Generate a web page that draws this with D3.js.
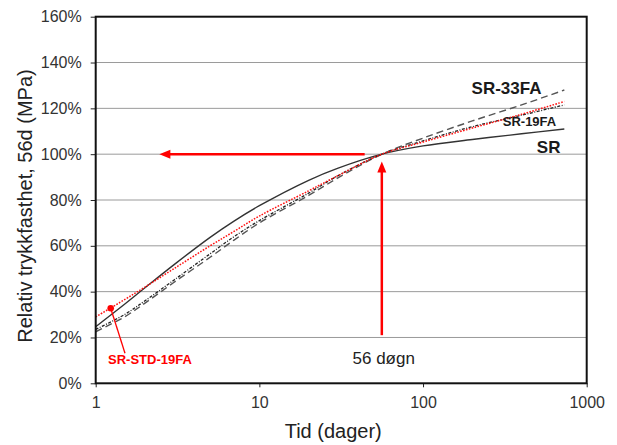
<!DOCTYPE html>
<html>
<head>
<meta charset="utf-8">
<script src="https://cdn.jsdelivr.net/npm/d3@7/dist/d3.min.js"></script>
<style>
  html, body { margin: 0; padding: 0; background: #fff; }
  svg { display: block; font-family: "Liberation Sans", Arial, sans-serif; }
</style>
</head>
<body>
<svg id="chart" width="617" height="445"></svg>
<script>
// ---- data ----
const days = [1, 1.5, 2, 3, 5, 7, 10, 20, 30, 56, 100, 200, 400, 730];
const srValues      = [24.7, 34.5, 41.7, 51.7, 63.7, 70.8, 77.5, 88.6, 93.8, 100, 103.6, 106.4, 108.9, 111];
const sr33faValues  = [22.5, 29, 35, 44, 55, 62.5, 70, 82, 89.5, 100, 107, 114.5, 121.5, 128];
const sr19faValues  = [23.5, 30, 36, 45, 56.5, 64, 71, 83, 90.5, 100, 105.8, 112, 117, 121.5];
const srStdValues   = [29, 36.5, 42, 50, 60, 66.3, 73, 84, 90.5, 100, 105.3, 111.4, 117.4, 123];
const xTickValues = [1, 10, 100, 1000];
const yTickValues = [0, 20, 40, 60, 80, 100, 120, 140, 160];
const seriesNames = ["SR", "SR-33FA", "SR-19FA", "SR-STD-19FA"];
// label anchors: [text, day, percent]
const seriesLabels = [["SR-33FA", 198, 126.3], ["SR-19FA", 307, 112.1], ["SR", 496, 100.7]];
const markerPoint = [1.235, 32.75];
const markerLabel = ["SR-STD-19FA", 1.19, 8.4];
const leaderEnd = [1.51, 13.1];
const refDay = 56, refPct = 100;
const hArrowFrom = 44, hArrowTo = 2.45;
const vArrowFrom = 21, vArrowTo = 96.8;
const refLabel = ["56 døgn", 57.5, 8.4];

// ---- layout ----
const svg = d3.select("#chart");
const W = 617, H = 445;
const m = {left: 95.7, right: 30.3, top: 16.7, bottom: 61.7};
const x = d3.scaleLog().domain([1, 1000]).range([m.left, W - m.right]);
const y = d3.scaleLinear().domain([0, 160]).range([H - m.bottom, m.top]);

svg.append("defs").append("clipPath").attr("id", "clip")
  .append("rect").attr("x", m.left).attr("y", m.top)
  .attr("width", W - m.left - m.right).attr("height", H - m.top - m.bottom);

// gridlines
svg.append("g").selectAll("line").data(yTickValues.filter(v => v > 0 && v < 160)).join("line")
  .attr("x1", m.left).attr("x2", W - m.right)
  .attr("y1", d => y(d)).attr("y2", d => y(d))
  .attr("stroke", "#9a9a9a").attr("stroke-width", 1);

// axes
const yAxis = d3.axisLeft(y).tickValues(yTickValues).tickFormat(d => d + "%").tickSize(5).tickPadding(9);
const gy = svg.append("g").attr("transform", `translate(${m.left},0)`).call(yAxis);
gy.select(".domain").remove();
gy.selectAll("line").attr("stroke", "#222");
gy.selectAll("text").attr("font-size", 16).attr("fill", "#333").attr("font-family", "Liberation Sans, Arial, sans-serif");

const xAxis = d3.axisBottom(x).tickValues(xTickValues).tickFormat(d3.format("d")).tickSize(4).tickPadding(9);
const gx = svg.append("g").attr("transform", `translate(0,${H - m.bottom})`).call(xAxis);
gx.select(".domain").remove();
gx.selectAll("line").attr("stroke", "#222");
gx.selectAll("text").attr("font-size", 16).attr("fill", "#333").attr("font-family", "Liberation Sans, Arial, sans-serif");

// curves
const line = d3.line().x(d => x(d[0])).y(d => y(d[1])).curve(d3.curveCatmullRom.alpha(0.5));
const series = [
  {name: seriesNames[1], values: sr33faValues, color: "#555", width: 1.4, dash: "7,4"},
  {name: seriesNames[2], values: sr19faValues, color: "#222", width: 1.3, dash: "3,1.5,1,1.5"},
  {name: seriesNames[0], values: srValues, color: "#333", width: 1.4, dash: null},
  {name: seriesNames[3], values: srStdValues, color: "#ff1010", width: 1.5, dash: "1.6,1.4"}
];
const gc = svg.append("g").attr("clip-path", "url(#clip)");
series.forEach(s => {
  gc.append("path").datum(days.map((d, i) => [d, s.values[i]]))
    .attr("d", line).attr("fill", "none")
    .attr("stroke", s.color).attr("stroke-width", s.width)
    .attr("stroke-dasharray", s.dash);
});

// red reference arrows
const red = "#ff0000";
svg.append("line")
  .attr("x1", x(hArrowFrom)).attr("x2", x(hArrowTo) + 9)
  .attr("y1", y(refPct)).attr("y2", y(refPct))
  .attr("stroke", red).attr("stroke-width", 2.5);
svg.append("path")
  .attr("d", `M${x(hArrowTo)},${y(refPct)} l11,-4.5 l0,9 z`)
  .attr("fill", red);
svg.append("line")
  .attr("x1", x(refDay)).attr("x2", x(refDay))
  .attr("y1", y(vArrowFrom)).attr("y2", y(vArrowTo) + 9)
  .attr("stroke", red).attr("stroke-width", 2.5);
svg.append("path")
  .attr("d", `M${x(refDay)},${y(vArrowTo)} l-4.5,11 l9,0 z`)
  .attr("fill", red);

// marker + leader
svg.append("line")
  .attr("x1", x(markerPoint[0])).attr("y1", y(markerPoint[1]))
  .attr("x2", x(leaderEnd[0])).attr("y2", y(leaderEnd[1]))
  .attr("stroke", red).attr("stroke-width", 1.3);
svg.append("circle")
  .attr("cx", x(markerPoint[0])).attr("cy", y(markerPoint[1])).attr("r", 3.3)
  .attr("fill", red);

// labels
svg.append("text").attr("x", x(markerLabel[1])).attr("y", y(markerLabel[2]))
  .attr("font-size", 13).attr("font-weight", "bold").attr("fill", red)
  .text(markerLabel[0]);
seriesLabels.forEach(l => {
  svg.append("text").attr("x", x(l[1])).attr("y", y(l[2]))
    .attr("font-size", l[0] === "SR-19FA" ? 13 : 17).attr("font-weight", "bold").attr("fill", "#1a1a1a")
    .text(l[0]);
});
svg.append("text").attr("x", x(refLabel[1])).attr("y", y(refLabel[2]))
  .attr("text-anchor", "middle").attr("font-size", 17).attr("fill", "#222")
  .text(refLabel[0]);

// frame
svg.append("rect").attr("x", m.left).attr("y", m.top)
  .attr("width", W - m.left - m.right).attr("height", H - m.top - m.bottom)
  .attr("fill", "none").attr("stroke", "#111").attr("stroke-width", 2);

// axis titles
svg.append("text").attr("x", (m.left + W - m.right) / 2 - 8).attr("y", 438)
  .attr("text-anchor", "middle").attr("font-size", 20).attr("fill", "#222")
  .text("Tid (dager)");
svg.append("text").attr("transform", `translate(32,206) rotate(-90)`)
  .attr("text-anchor", "middle").attr("font-size", 20).attr("fill", "#222")
  .text("Relativ trykkfasthet, 56d (MPa)");
</script>
</body>
</html>
